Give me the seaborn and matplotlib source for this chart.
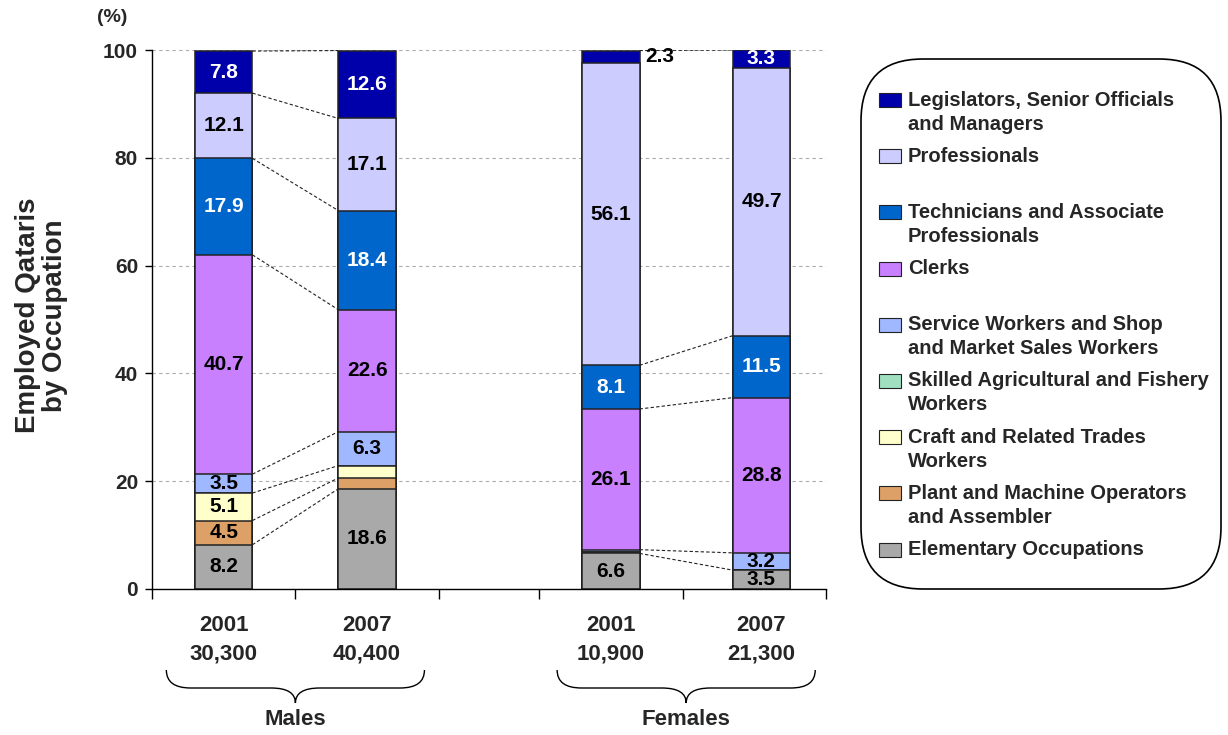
import matplotlib
matplotlib.use("Agg")
import numpy as np
import pandas as pd
import matplotlib.pyplot as plt
import seaborn as sns
from matplotlib.patches import FancyBboxPatch, Rectangle, PathPatch
from matplotlib.path import Path
from matplotlib.transforms import Affine2D, blended_transform_factory

# ---------------- data ----------------
occupations = [
    "Legislators, Senior Officials\nand Managers",
    "Professionals",
    "Technicians and Associate\nProfessionals",
    "Clerks",
    "Service Workers and Shop\nand Market Sales Workers",
    "Skilled Agricultural and Fishery\nWorkers",
    "Craft and Related Trades\nWorkers",
    "Plant and Machine Operators\nand Assembler",
    "Elementary Occupations",
]
colors = ["#0000AA", "#CCCCFF", "#0066CC", "#C880FF", "#A0B8FF",
          "#A0E0C0", "#FFFFCC", "#DDA066", "#A9A9A9"]

years = ["2001", "2007", "2001", "2007"]
totals = ["30,300", "40,400", "10,900", "21,300"]
groups = ["Males", "Females"]

# values listed in legend order (top of stack first)
males_2001 = [7.8, 12.1, 17.9, 40.7, 3.5, 0.0, 5.1, 4.5, 8.2]
males_2007 = [12.6, 17.1, 18.4, 22.6, 6.3, 0.0, 2.3, 2.0, 18.6]
females_2001 = [2.3, 56.1, 8.1, 26.1, 0.5, 0.0, 0.1, 0.1, 6.6]
females_2007 = [3.3, 49.7, 11.5, 28.8, 3.2, 0.0, 0.0, 0.0, 3.5]

series = [males_2001, males_2007, females_2001, females_2007]

# ---------------- layout ----------------
bar_pos = [0.5, 1.5, 3.2, 4.25]
bar_width = 0.4
boundaries = [0, 1, 2, 2.7, 3.7, 4.7]
pairs = [(0, 1), (2, 3)]
connector_skip = {(2, 1)}  # (first bar index, layer index)

W, H = 1228, 735

sns.set_theme(style="white")
plt.rcParams["font.family"] = ["Liberation Sans", "DejaVu Sans"]
plt.rcParams["font.weight"] = "bold"

fig = plt.figure(figsize=(W / 100, H / 100), dpi=100)
ax = fig.add_axes([152 / W, 146 / H, 674 / W, 539 / H])
px_tr = Affine2D().scale(1 / W, -1 / H).translate(0, 1) + fig.transFigure

# cumulative tops for each layer
rows = []
tops = []
for j, vals in enumerate(series):
    v = np.array(vals)
    t = np.array([v[i:].sum() for i in range(len(v))])
    tops.append(t)
    for i, occ in enumerate(occupations):
        rows.append({"pos": bar_pos[j], "occ": occ, "top": t[i]})
df = pd.DataFrame(rows)

sns.barplot(data=df, x="pos", y="top", hue="occ", hue_order=occupations,
            palette=dict(zip(occupations, colors)), native_scale=True,
            dodge=False, width=bar_width, errorbar=None, saturation=1,
            edgecolor="#222222", linewidth=1.1, legend=False, ax=ax)

ax.set_xlim(boundaries[0], boundaries[-1])
ax.set_ylim(0, 100)

# connectors
for a, b in pairs:
    for i in range(len(occupations)):
        if series[a][i] > 0 and series[b][i] > 0 and (a, i) not in connector_skip:
            ax.plot([bar_pos[a] + bar_width / 2, bar_pos[b] - bar_width / 2],
                    [tops[a][i], tops[b][i]], color="#222222", lw=0.8,
                    linestyle=(0, (3, 2)), zorder=1)

# value labels
for j, vals in enumerate(series):
    for i, v in enumerate(vals):
        y = tops[j][i] - v / 2
        if v >= 3:
            ax.text(bar_pos[j], y, f"{v:.1f}", ha="center", va="center",
                    fontsize=15, fontweight="bold",
                    color="white" if i in (0, 2) else "black", zorder=5)
        elif i == 0 and v > 0:
            ax.text(bar_pos[j] + bar_width / 2 + 0.04, y, f"{v:.1f}",
                    ha="left", va="center", fontsize=15, fontweight="bold",
                    color="black", zorder=5)

# axes styling
ax.set_yticks(range(0, 101, 20))
ax.tick_params(axis="y", labelsize=15, length=5, width=1, pad=5,
               direction="out", color="black", left=True)
ax.set_xticks(boundaries)
ax.set_xticklabels([])
ax.tick_params(axis="x", which="major", length=7, width=1, direction="out",
               color="black", bottom=True)
ax.set_xticks(bar_pos, minor=True)
ax.set_xticklabels([f"{y}\n{t}" for y, t in zip(years, totals)], minor=True,
                   fontsize=16, fontweight="bold", linespacing=1.45)
ax.tick_params(axis="x", which="minor", length=0, pad=19)

ax.yaxis.grid(True, linestyle=(0, (3, 3)), color="#AAAAAA", lw=0.8)
ax.xaxis.grid(False)
ax.set_axisbelow(True)
for s in ["top", "right"]:
    ax.spines[s].set_visible(False)
for s in ["left", "bottom"]:
    ax.spines[s].set_color("black")
    ax.spines[s].set_linewidth(1.0)

ax.set_xlabel("")
ax.set_ylabel("Employed Qataris\nby Occupation", fontsize=20,
              fontweight="bold", linespacing=1.05)
ax.yaxis.set_label_coords(-0.125, 0.508)

fig.text(112, 18, "(%)", transform=px_tr, ha="center", va="center",
         fontsize=14, fontweight="bold")

# braces and group labels
bl = blended_transform_factory(ax.transData, px_tr)
for g, (a, b) in zip(groups, pairs):
    xc = (bar_pos[a] + bar_pos[b]) / 2
    half, r = 0.9, 0.17
    y0, ym, ytip = 670, 688, 703
    verts = [(xc - half, y0), (xc - half, ym), (xc - half + r, ym),
             (xc - r, ym), (xc, ym), (xc, ytip),
             (xc, ym), (xc + r, ym),
             (xc + half - r, ym), (xc + half, ym), (xc + half, y0)]
    codes = [Path.MOVETO, Path.CURVE3, Path.CURVE3, Path.LINETO,
             Path.CURVE3, Path.CURVE3, Path.CURVE3, Path.CURVE3,
             Path.LINETO, Path.CURVE3, Path.CURVE3]
    fig.patches.append(PathPatch(Path(verts, codes), transform=bl,
                                 fill=False, ec="black", lw=1.0))
    fig.text(xc, 720, g, transform=bl, ha="center", va="center",
             fontsize=16, fontweight="bold")

# legend
fig.patches.append(FancyBboxPatch((861, 59), 360, 530,
                                  boxstyle="round,pad=0,rounding_size=62",
                                  transform=px_tr, fc="white", ec="black",
                                  lw=1.2))
for k, (occ, c) in enumerate(zip(occupations, colors)):
    y = 100 + k * 56.2
    fig.patches.append(Rectangle((879, y - 7), 22, 14, transform=px_tr,
                                 fc=c, ec="#222222", lw=0.8))
    for li, line in enumerate(occ.split("\n")):
        fig.text(908, y + li * 24, line, transform=px_tr, ha="left",
                 va="center", fontsize=14.5, fontweight="bold")

fig.savefig("out.png", dpi=100)
